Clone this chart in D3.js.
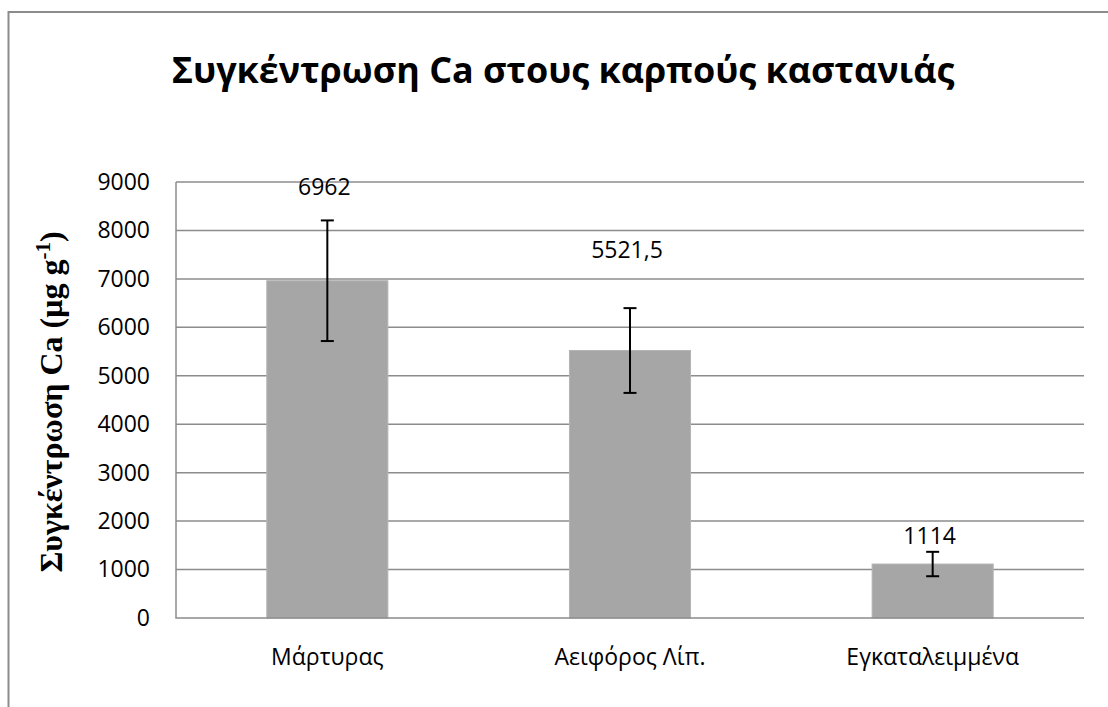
<!DOCTYPE html>
<html>
<head>
<meta charset="utf-8">
<script src="https://cdn.jsdelivr.net/npm/d3@7/dist/d3.min.js"></script>
<style>
  html, body { margin: 0; padding: 0; background: #fff; }
  svg { display: block; }
</style>
</head>
<body>
<div id="chart"></div>
<script>
// ── Data ──────────────────────────────────────────────
var categories  = ['Μάρτυρας', 'Αειφόρος Λίπ.', 'Εγκαταλειμμένα'];
var values      = [6962, 5521.5, 1114];
var errors      = [1245, 875, 252];
var valueLabels = ['6962', '5521,5', '1114'];
var labelAnchor = [8900, 7600, 1700];   // where Excel left each data label (data units)
var yTicks      = [0, 1000, 2000, 3000, 4000, 5000, 6000, 7000, 8000, 9000];

var W = 1108, H = 707;
var margin = { top: 182, right: 24, bottom: 89, left: 176 };
var iw = W - margin.left - margin.right;
var ih = H - margin.top - margin.bottom;

var grey = '#8c8c8c';
var sans = "'Open Sans', 'Noto Sans', sans-serif";

var svg = d3.select('#chart').append('svg')
    .attr('width', W).attr('height', H);

// outer chart frame (cropped at right and bottom)
svg.append('path')
    .attr('d', 'M8.5,' + H + ' V12 H' + W)
    .attr('fill', 'none').attr('stroke', grey).attr('stroke-width', 2);

// title
var title = svg.append('text')
    .attr('x', 563).attr('y', 83)
    .attr('text-anchor', 'middle')
    .attr('font-family', sans)
    .attr('font-weight', 'bold')
    .attr('font-size', 38)
    .text('Συγκέντρωση Ca στους καρπούς καστανιάς');
// shrink the title if it ends up wider than the reference's (~783px)
var tw = title.node().getComputedTextLength();
if (tw > 790) title.attr('font-size', 38 * 783 / tw);

var g = svg.append('g')
    .attr('transform', 'translate(' + margin.left + ',' + margin.top + ')');

var x = d3.scaleBand().domain(categories).range([0, iw])
    .paddingInner(0.6).paddingOuter(0.3);
var y = d3.scaleLinear().domain([0, 9000]).range([ih, 0]);

// gridlines
g.append('g').selectAll('line').data(yTicks.filter(function (t) { return t > 0; }))
  .join('line')
    .attr('x1', 0).attr('x2', iw)
    .attr('y1', function (d) { return y(d); }).attr('y2', function (d) { return y(d); })
    .attr('stroke', grey).attr('stroke-width', 1.5);

// bars
g.append('g').selectAll('rect').data(values)
  .join('rect')
    .attr('x', function (d, i) { return x(categories[i]); })
    .attr('width', x.bandwidth())
    .attr('y', function (d) { return y(d); })
    .attr('height', function (d) { return ih - y(d); })
    .attr('fill', '#a6a6a6')
    .attr('stroke', '#b4b4b4').attr('stroke-width', 1);

// y axis
var yAxis = g.append('g')
    .call(d3.axisLeft(y).tickValues(yTicks).tickSize(0).tickPadding(26)
        .tickFormat(d3.format('d')));
yAxis.select('.domain').remove();
yAxis.selectAll('text')
    .attr('font-family', sans).attr('font-size', 23).attr('fill', '#000');

// x axis
var xAxis = g.append('g')
    .attr('transform', 'translate(0,' + ih + ')')
    .call(d3.axisBottom(x).tickSize(0).tickPadding(31));
xAxis.select('.domain').remove();
xAxis.selectAll('text')
    .attr('font-family', sans).attr('font-size', 23).attr('fill', '#000');

// axis lines
g.append('path')
    .attr('d', 'M0,0 V' + ih + ' H' + iw)
    .attr('fill', 'none').attr('stroke', grey).attr('stroke-width', 1.5);

// error bars
var eb = g.append('g').attr('stroke', '#000').attr('stroke-width', 2);
values.forEach(function (v, i) {
    var cx = x(categories[i]) + x.bandwidth() / 2;
    var y1 = y(v + errors[i]), y0 = y(v - errors[i]);
    eb.append('line').attr('x1', cx).attr('x2', cx).attr('y1', y1).attr('y2', y0);
    eb.append('line').attr('x1', cx - 6.5).attr('x2', cx + 6.5).attr('y1', y1).attr('y2', y1);
    eb.append('line').attr('x1', cx - 6.5).attr('x2', cx + 6.5).attr('y1', y0).attr('y2', y0);
});

// data labels
g.append('g').selectAll('text').data(valueLabels)
  .join('text')
    .attr('x', function (d, i) { return x(categories[i]) + x.bandwidth() / 2 - 3; })
    .attr('y', function (d, i) { return y(labelAnchor[i]); })
    .attr('dy', '0.35em')
    .attr('text-anchor', 'middle')
    .attr('font-family', sans).attr('font-size', 23)
    .text(function (d) { return d; });

// y axis title
var yt = svg.append('text')
    .attr('transform', 'translate(62,' + (margin.top + ih / 2 + 2) + ') rotate(-90)')
    .attr('text-anchor', 'middle')
    .attr('font-family', "'Liberation Serif', 'DejaVu Serif', serif")
    .attr('font-weight', 'bold')
    .attr('font-size', 32);
yt.append('tspan').text('Συγκέντρωση Ca (μg g');
yt.append('tspan').attr('baseline-shift', 'super').attr('font-size', 21).text('-1');
yt.append('tspan').text(')');
</script>
</body>
</html>
